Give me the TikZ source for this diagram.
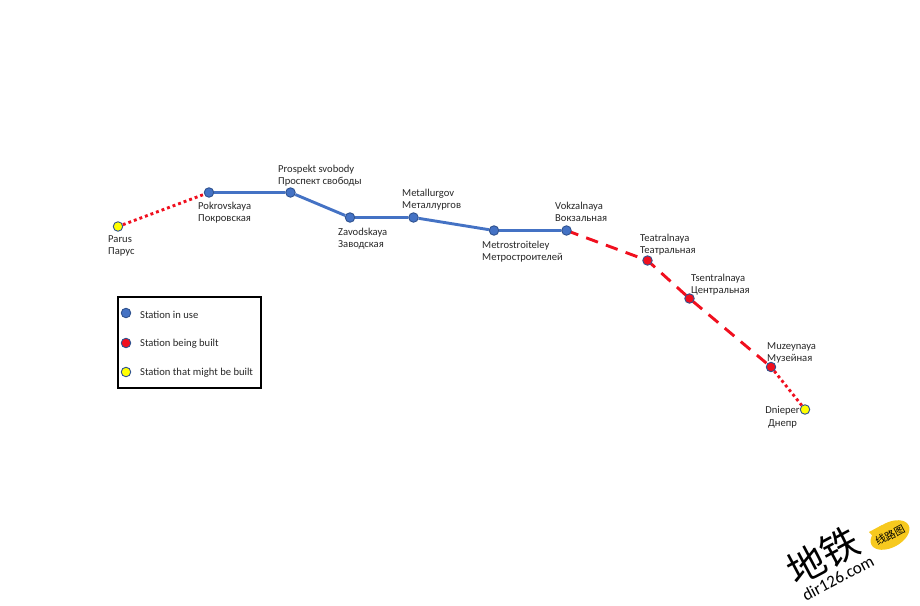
\documentclass[tikz,border=0pt]{standalone}
\usepackage{fontspec}
\setmainfont{Carlito}
\newfontfamily\cjkfont{Noto Sans CJK SC}
\definecolor{lnBlue}{HTML}{4472C4}
\definecolor{lnRed}{HTML}{F00F1E}
\definecolor{lnYellow}{HTML}{FFFF00}
\definecolor{lnEdge}{HTML}{2F528F}
\definecolor{wmYellow}{HTML}{F7C91E}
\usetikzlibrary{backgrounds,shapes.geometric}

\begin{document}
\begin{tikzpicture}[x=1pt,y=-1pt,font=\fontsize{10.6}{12.4}\selectfont,
  stn/.style={circle,draw=lnEdge,line width=0.9pt,minimum size=9.5pt,inner sep=0pt},
  inuse/.style={stn,fill=lnBlue},
  built/.style={stn,fill=lnRed},
  maybe/.style={stn,fill=lnYellow},
  lbl/.style={align=left,inner sep=0pt,anchor=north west,text=black!85},
  lineuse/.style={lnBlue,line width=2.9pt},
  linebuilt/.style={lnRed,line width=2.9pt,dash pattern=on 12.5pt off 8.5pt},
  linemaybe/.style={lnRed,line width=2.9pt,dash pattern=on 2.9pt off 3pt}]
\useasboundingbox (0,0) rectangle (920,605);
% stations
\node[maybe] (parus) at (118,226.5) {};
\foreach \nm/\x/\y in {pokr/209/192.5,prosp/290.5/192.5,zavod/350/217.5,metal/413.5/217.5,metro/494/230.5,vokz/566.5/230.5}
  {\node[inuse] (\nm) at (\x,\y) {};}
\foreach \nm/\x/\y in {teatr/647.5/260.5,tsentr/689.5/298.5,muz/771/367}
  {\node[built] (\nm) at (\x,\y) {};}
\node[maybe] (dniep) at (805,409.5) {};
% lines go behind the stations
\begin{scope}[on background layer]
\draw[linemaybe] (parus) -- (pokr);
\draw[lineuse] (pokr) -- (prosp) -- (zavod) -- (metal) -- (metro) -- (vokz);
\draw[linebuilt] (vokz.center) -- (teatr.center) -- (tsentr.center) -- (muz.center);
\draw[linemaybe] (muz) -- (dniep);
\end{scope}
% names
\node[lbl] (lparus) at (108,235) {Parus\\Парус};
\node[lbl] (lpokr) at (198,202) {Pokrovskaya\\Покровская};
\node[lbl] (lprosp) at (278,165) {Prospekt svobody\\Проспект свободы};
\node[lbl] (lzavod) at (338,228) {Zavodskaya\\Заводская};
\node[lbl] (lmetal) at (402,189) {Metallurgov\\Металлургов};
\node[lbl] (lmetro) at (482,241) {Metrostroiteley\\Метростроителей};
\node[lbl] (lvokz) at (555,202) {Vokzalnaya\\Вокзальная};
\node[lbl] (lteatr) at (640,234) {Teatralnaya\\Театральная};
\node[lbl] (ltsentr) at (691,274) {Tsentralnaya\\Центральная};
\node[lbl] (lmuz) at (767,342) {Muzeynaya\\Музейная};
\node[lbl,align=center,anchor=north] (ldniep) at (782.5,406.5) {Dnieper\\Днепр};
% legend
\node[draw=black,line width=2pt,minimum width=143pt,minimum height=91pt,inner sep=0pt] (legend) at (189.5,342) {};
\node[inuse] (kuse) at (126,313) {};
\node[built] (kbuilt) at (126,343) {};
\node[maybe] (kmaybe) at (126,372) {};
\node[lbl,anchor=west] (tuse) at (140,314.5) {Station in use};
\node[lbl,anchor=west] (tbuilt) at (140,343.5) {Station being built};
\node[lbl,anchor=west] (tmaybe) at (140,372.5) {Station that might be built};
% watermark
\node[ellipse,fill=wmYellow,minimum width=42pt,minimum height=25pt,inner sep=0pt,rotate=28] (wbub) at (890,535) {};
\fill[wmYellow] (869,532) -- (882,525) -- (878,542) -- cycle;
\node[inner sep=0pt,rotate=28,font=\cjkfont\fontsize{10.5}{10.5}\selectfont] (wline) at (890,535) {线路图};
\node[inner sep=0pt,rotate=28,font=\cjkfont\fontsize{38}{38}\selectfont] (wmain) at (823,556) {地铁};
\node[inner sep=0pt,rotate=28,font=\fontsize{17}{17}\selectfont] (wsite) at (838,578) {dir126.com};
\end{tikzpicture}
\end{document}
